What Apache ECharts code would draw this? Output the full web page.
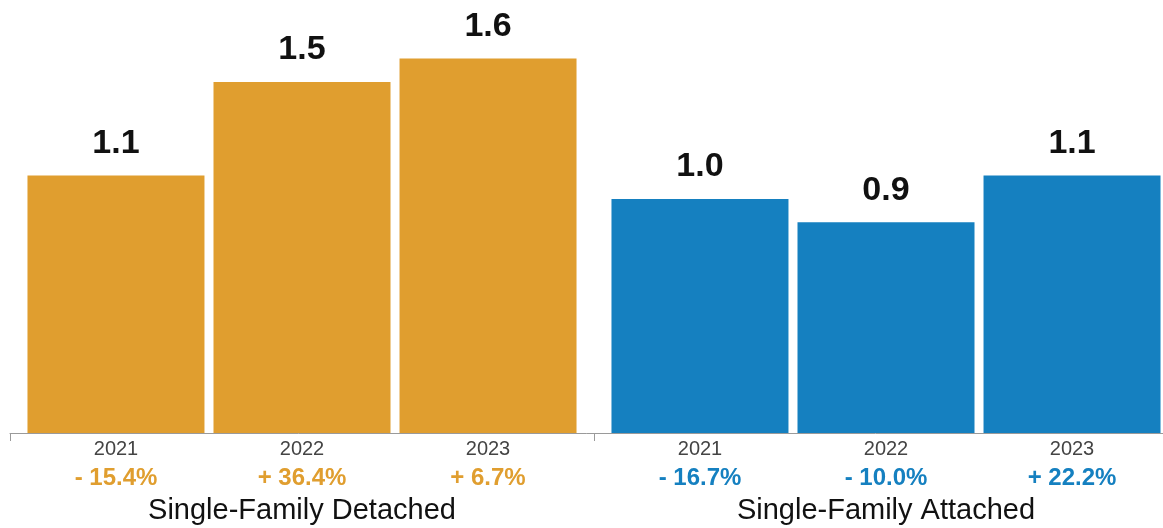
<!DOCTYPE html>
<html>
<head>
<meta charset="utf-8">
<script src="https://cdn.jsdelivr.net/npm/echarts@6/dist/echarts.min.js"></script>
<style>
  html, body { margin: 0; padding: 0; background: #fff; }
  #chart { width: 1163px; height: 528px; }
</style>
</head>
<body>
<div id="chart"></div>
<script>
// Housing types (one group of bars each) and the years within every group
const groups = ['Single-Family Detached', 'Single-Family Attached'];
const years = ['2021', '2022', '2023'];

// Values per year, one entry per group
const values2021 = [1.1, 1.0];
const values2022 = [1.5, 0.9];
const values2023 = [1.6, 1.1];

// Year-over-year change labels, per group, in year order
const changeDetached = ['- 15.4%', '+ 36.4%', '+ 6.7%'];
const changeAttached = ['- 16.7%', '- 10.0%', '+ 22.2%'];

const groupColors = ['#E09E2F', '#1580C0'];
const FONT = '"Liberation Sans", Arial, Helvetica, sans-serif';

const seriesValues = [values2021, values2022, values2023];
const changes = [changeDetached, changeAttached];

const chart = echarts.init(document.getElementById('chart'), null, { renderer: 'canvas' });

const series = years.map((yr, i) => ({
  name: yr,
  type: 'bar',
  barWidth: 177,
  barGap: '5.1%',
  data: seriesValues[i].map((v, g) => ({
    value: v,
    itemStyle: { color: groupColors[g] }
  })),
  label: {
    show: true,
    position: 'top',
    distance: 15,
    formatter: p => p.value.toFixed(1),
    fontFamily: FONT,
    fontWeight: 'bold',
    fontSize: 34,
    color: '#111'
  },
  emphasis: { disabled: true }
}));

chart.setOption({
  animation: false,
  grid: { left: 10, width: 1168, top: 0, bottom: 95, outerBoundsMode: 'none', containLabel: false },
  xAxis: {
    type: 'category',
    data: groups,
    axisLine: { show: true, lineStyle: { color: '#9a9a9a', width: 1 } },
    axisTick: { show: true, length: 8, lineStyle: { color: '#9a9a9a' } },
    axisLabel: {
      margin: 5,
      interval: 0,
      hideOverlap: false,
      formatter: (name, idx) => {
        const c = idx === 0 ? 'o' : 'b';
        const row1 = years.map(y => '{y|' + y + '}').join('');
        const row2 = changes[idx].map(t => '{' + c + '|' + t + '}').join('');
        return row1 + '\n' + row2 + '\n{g|' + name + '}';
      },
      rich: {
        y: { width: 186, align: 'center', fontFamily: FONT, fontSize: 20, color: '#444', lineHeight: 22 },
        o: { width: 186, align: 'center', fontFamily: FONT, fontSize: 24, fontWeight: 'bold', color: groupColors[0], lineHeight: 36 },
        b: { width: 186, align: 'center', fontFamily: FONT, fontSize: 24, fontWeight: 'bold', color: groupColors[1], lineHeight: 36 },
        g: { align: 'center', fontFamily: FONT, fontSize: 29, color: '#111', lineHeight: 30 }
      }
    }
  },
  yAxis: {
    type: 'value',
    min: 0,
    max: 1.85,
    show: false,
    splitLine: { show: false }
  },
  series: series
});
</script>
</body>
</html>
